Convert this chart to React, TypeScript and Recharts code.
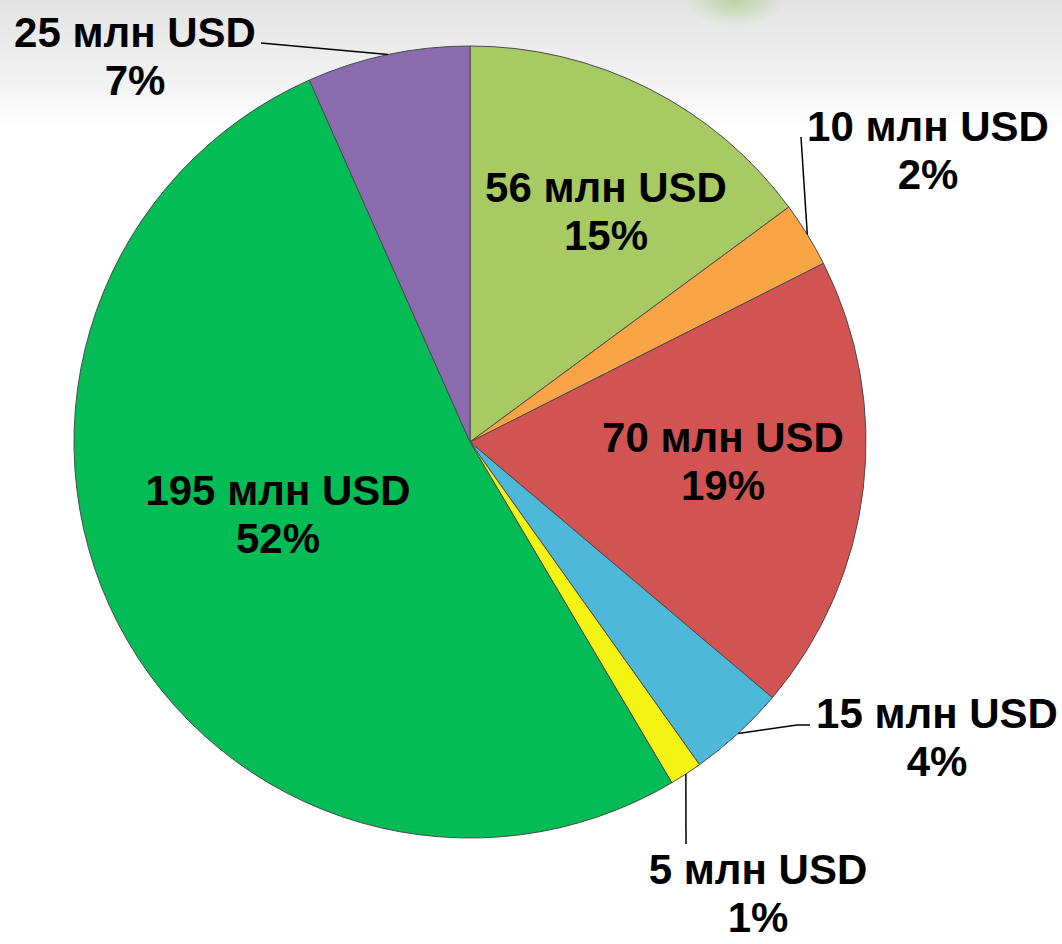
import React from 'react';
import { PieChart, Pie, Cell } from 'recharts';

const VALUES = [56, 10, 70, 15, 5, 195, 25];
const PERCENT_LABELS = ['15%', '2%', '19%', '4%', '1%', '52%', '7%'];
const UNIT = 'млн USD';
const COLORS = ['#a7cb62', '#f9a546', '#d25452', '#4eb8d8', '#f4f414', '#04bc56', '#8a6cae'];

const data = VALUES.map((value, i) => ({ name: `${value} ${UNIT}`, value, pct: PERCENT_LABELS[i] }));

// label block centre (offset from pie centre) and optional leader line points
const LABEL_LAYOUT = [
  { dx: 136, dy: -230 },
  { dx: 458, dy: -291, line: [[331, -305]] },
  { dx: 253, dy: 20 },
  { dx: 467, dy: 296, line: [[327, 283], [340, 283]] },
  { dx: 288, dy: 452, line: [[216, 402]] },
  { dx: -192, dy: 73 },
  { dx: -335, dy: -385, line: [[-209, -399]] },
];

const RAD = Math.PI / 180;

const renderLabel = (props: any) => {
  const { cx, cy, midAngle, outerRadius, index } = props;
  const lay = LABEL_LAYOUT[index];
  const x = cx + lay.dx;
  const y = cy + lay.dy;
  let path = null;
  if (lay.line) {
    const ex = cx + outerRadius * Math.cos(-midAngle * RAD);
    const ey = cy + outerRadius * Math.sin(-midAngle * RAD);
    const pts = [[ex, ey], ...lay.line.map(([px, py]) => [cx + px, cy + py])];
    path = (
      <polyline
        points={pts.map((p) => p.join(',')).join(' ')}
        fill="none"
        stroke="#000"
        strokeWidth={1.5}
      />
    );
  }
  return (
    <g key={`lbl-${index}`}>
      {path}
      <text
        x={x}
        y={y}
        textAnchor="middle"
        fill="#000"
        fontFamily="'Liberation Sans', Arial, sans-serif"
        fontWeight="bold"
        fontSize={42}
      >
        <tspan x={x} dy={-10}>{data[index].name}</tspan>
        <tspan x={x} dy={48}>{data[index].pct}</tspan>
      </text>
    </g>
  );
};

export default function App() {
  return (
    <div
      style={{
        position: 'absolute',
        left: 0,
        top: 0,
        width: 1062,
        height: 944,
        background:
          'radial-gradient(ellipse 50px 26px at 735px 0px, rgba(130,185,70,0.4), rgba(130,185,70,0) 100%), linear-gradient(to bottom, #e3e3e3 0px, #f2f2f2 80px, #ffffff 130px)',
      }}
    >
      <PieChart width={1062} height={944} margin={{ top: 0, right: 0, bottom: 0, left: 0 }}>
        <Pie
          data={data}
          dataKey="value"
          cx={470}
          cy={442}
          outerRadius={396}
          startAngle={90}
          endAngle={-270}
          stroke="#4a4a4a"
          strokeWidth={1}
          labelLine={false}
          label={renderLabel}
          isAnimationActive={false}
        >
          {data.map((entry, i) => (
            <Cell key={`cell-${i}`} fill={COLORS[i]} />
          ))}
        </Pie>
      </PieChart>
    </div>
  );
}
